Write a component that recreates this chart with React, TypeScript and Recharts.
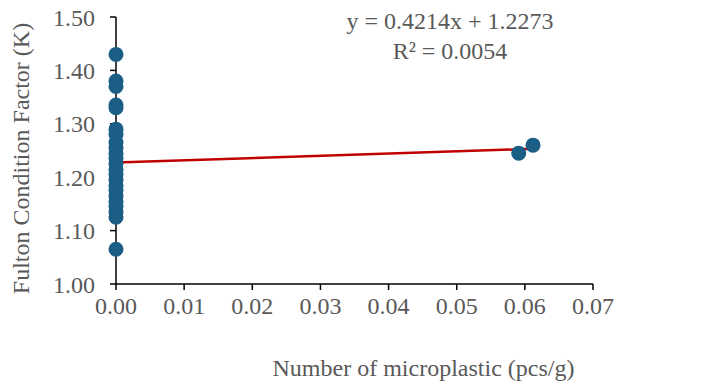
import React from 'react'
import { ScatterChart, Scatter, XAxis, YAxis, ReferenceLine } from 'recharts'

// microplastic count (pcs/g) vs Fulton K
const zeroGroupK = [
  1.43, 1.38, 1.37, 1.335, 1.33, 1.29, 1.28, 1.265, 1.255, 1.245, 1.235, 1.225,
  1.215, 1.205, 1.195, 1.185, 1.175, 1.165, 1.155, 1.145, 1.135, 1.125, 1.065,
]
const otherX = [0.0591, 0.0612]
const otherK = [1.245, 1.26]

const xTicks = [0, 0.01, 0.02, 0.03, 0.04, 0.05, 0.06, 0.07]
const yTicks = [1.0, 1.1, 1.2, 1.3, 1.4, 1.5]

const slope = 0.4214
const intercept = 1.2273
const rSquared = 0.0054

const points = [
  ...zeroGroupK.map((k) => ({ x: 0, y: k })),
  ...otherX.map((x, i) => ({ x, y: otherK[i] })),
]

const fitEnd = Math.max(...otherX)
const font = '"Liberation Serif", "Times New Roman", serif'
const gray = '#595959'

export default function App() {
  return (
    <div style={{ position: 'absolute', left: 0, top: 0, width: 708, height: 382, background: '#fff' }}>
      <ScatterChart width={708} height={382} margin={{ top: 17, right: 115, left: 0, bottom: 0 }}>
        <XAxis
          type="number"
          dataKey="x"
          domain={[0, 0.07]}
          ticks={xTicks}
          tickFormatter={(v: number) => v.toFixed(2)}
          tick={{ fill: gray, fontSize: 24, fontFamily: font }}
          axisLine={{ stroke: '#000', strokeWidth: 1.5 }}
          tickLine={{ stroke: '#000', strokeWidth: 1.5 }}
          tickSize={6}
          tickMargin={7}
          height={98}
          label={{ value: 'Number of microplastic (pcs/g)', position: 'insideBottom', offset: 6, dx: 69, fill: gray, fontSize: 24, fontFamily: font }}
        />
        <YAxis
          type="number"
          dataKey="y"
          domain={[1, 1.5]}
          ticks={yTicks}
          tickFormatter={(v: number) => v.toFixed(2)}
          tick={{ fill: gray, fontSize: 24, fontFamily: font }}
          axisLine={{ stroke: '#000', strokeWidth: 1.5 }}
          tickLine={{ stroke: '#000', strokeWidth: 1.5 }}
          tickSize={6}
          tickMargin={15}
          width={116}
          label={{ value: 'Fulton Condition Factor (K)', angle: -90, position: 'insideLeft', offset: 20, dy: 8, fill: gray, fontSize: 24, fontFamily: font, style: { textAnchor: 'middle' } }}
        />
        <Scatter
          data={points}
          fill="#1b5e85"
          isAnimationActive={false}
          shape={(p: any) => <circle cx={p.cx} cy={p.cy} r={7.5} fill="#1b5e85" />}
        />
        <ReferenceLine
          segment={[
            { x: 0, y: intercept },
            { x: fitEnd, y: intercept + slope * fitEnd },
          ]}
          stroke="#c00000"
          strokeWidth={2.5}
        />
        <text x={450} y={29} textAnchor="middle" fill={gray} fontSize={24} fontFamily={font}>
          {`y = ${slope}x + ${intercept}`}
        </text>
        <text x={450} y={59} textAnchor="middle" fill={gray} fontSize={24} fontFamily={font}>
          {`R² = ${rSquared}`}
        </text>
      </ScatterChart>
    </div>
  )
}
